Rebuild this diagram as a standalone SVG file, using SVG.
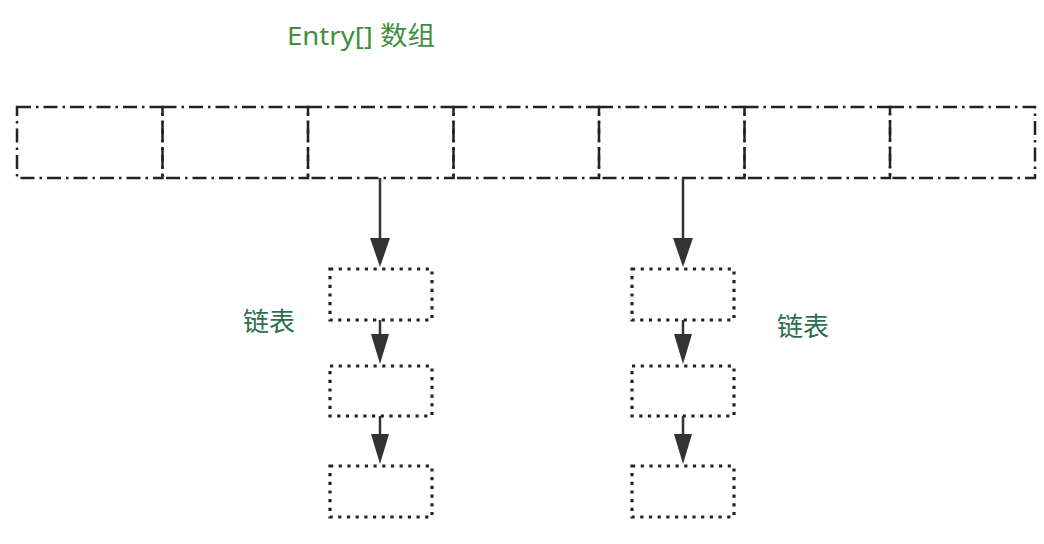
<svg xmlns="http://www.w3.org/2000/svg" width="1044" height="544" viewBox="0 0 1044 544">
<defs>
<style>
.cell{fill:none;stroke:#222;stroke-width:2.5;stroke-dasharray:14 5 2.5 5}
.node{fill:none;stroke:#222;stroke-width:3.2;stroke-dasharray:3.2 5.5}
.conn{stroke:#333;stroke-width:2.5;fill:none}
.head{fill:#333}
.t1{font-family:"Noto Sans","Noto Sans CJK SC",sans-serif;font-size:26px;fill:#3f8f3f}
.t2{font-family:"Noto Sans CJK SC",sans-serif;font-size:26px;fill:#2d6e50}
</style>
</defs>
<rect width="1044" height="544" fill="#fff"/>
<g id="title"><text class="t1" x="287" y="45" textLength="148" lengthAdjust="spacingAndGlyphs">Entry[] 数组</text></g>
<g id="array">
<rect class="cell" x="17" y="107" width="145.5" height="71"/>
<rect class="cell" x="162.5" y="107" width="145.5" height="71"/>
<rect class="cell" x="308" y="107" width="145.5" height="71"/>
<rect class="cell" x="453.5" y="107" width="145.5" height="71"/>
<rect class="cell" x="599" y="107" width="145.5" height="71"/>
<rect class="cell" x="744.5" y="107" width="145.5" height="71"/>
<rect class="cell" x="890" y="107" width="145" height="71"/>
</g>
<g id="list1">
<rect class="node" x="330" y="269" width="102" height="51"/>
<rect class="node" x="330" y="366" width="102" height="50"/>
<rect class="node" x="330" y="466" width="102" height="51"/>
</g>
<g id="list2">
<rect class="node" x="632" y="269" width="102" height="51"/>
<rect class="node" x="632" y="366" width="102" height="50"/>
<rect class="node" x="632" y="466" width="102" height="51"/>
</g>
<g id="labels">
<text class="t2" x="243" y="331">链表</text>
<text class="t2" x="777" y="336">链表</text>
</g>
<g id="connectors">
<line class="conn" x1="380" y1="178" x2="380" y2="240"/>
<polygon class="head" points="370,238 390,238 380,267"/>
<line class="conn" x1="380" y1="320" x2="380" y2="336"/>
<polygon class="head" points="371,334 389,334 380,364"/>
<line class="conn" x1="380" y1="416" x2="380" y2="436"/>
<polygon class="head" points="371,434 389,434 380,464"/>
<line class="conn" x1="683" y1="178" x2="683" y2="240"/>
<polygon class="head" points="673,238 693,238 683,267"/>
<line class="conn" x1="683" y1="320" x2="683" y2="336"/>
<polygon class="head" points="674,334 692,334 683,364"/>
<line class="conn" x1="683" y1="416" x2="683" y2="436"/>
<polygon class="head" points="674,434 692,434 683,464"/>
</g>
</svg>
